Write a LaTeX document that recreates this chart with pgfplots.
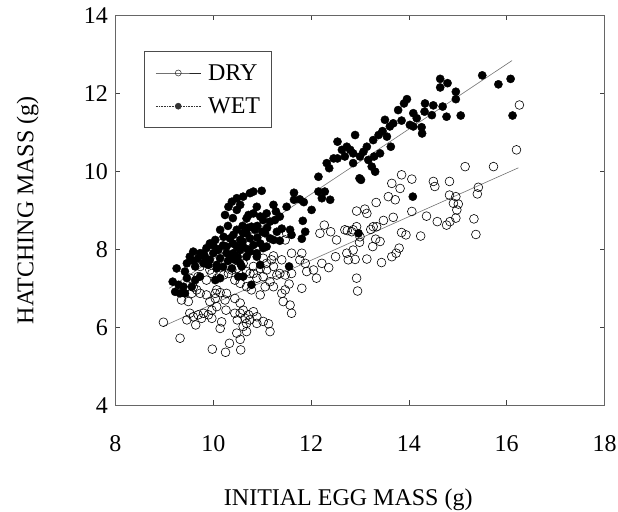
\documentclass[border=0pt]{standalone}
\usepackage{fontspec}
\setmainfont{Liberation Serif}
\usepackage{pgfplots}
\pgfplotsset{compat=1.18}
\newcommand\bigfont{\fontsize{24bp}{29bp}\selectfont}
\begin{document}
\begin{tikzpicture}
\begin{axis}[
 at={(0,0)}, anchor=south west,
 scale only axis, width=489bp, height=390bp,
 xmin=8, xmax=18, ymin=4, ymax=14,
 xtick={8,10,...,18}, ytick={4,6,...,14},
 tick align=inside, major tick length=5bp,
 axis line style={black!60, line width=0.8bp},
 every tick/.style={black!75, line width=0.8bp},
 /pgf/number format/assume math mode=true,
 ticklabel style={font=\bigfont},
 xticklabel style={yshift=-27bp},
 yticklabel style={xshift=-4bp},
 xlabel={INITIAL EGG MASS (g)},
 ylabel={HATCHING MASS (g)},
 label style={font=\bigfont},
 xlabel style={at={(axis description cs:0.476,-0.2564)}, anchor=base},
 ylabel style={at={(axis description cs:-0.1677,0.5)}, anchor=base},
 legend image code/.code={\draw[mark repeat=2,mark phase=2,#1] plot coordinates {(0bp,0bp) (22.5bp,0bp) (45bp,0bp)};},
 legend cell align=left,
 legend style={at={(axis description cs:0.0583,0.9085)}, anchor=north west,
   draw=black!70, line width=0.8bp, font=\bigfont,
   inner xsep=11bp, inner ysep=13bp,
   nodes={inner sep=0bp}, column sep=7bp, row sep=16bp},
]
\addlegendimage{black!85, line width=0.7bp, mark=o, mark size=3bp, mark options={solid, line width=0.5bp}}
\addlegendentry{DRY}
\addlegendimage{black!80, line width=0.6bp, densely dotted, mark=*, mark size=3bp, mark options={solid}}
\addlegendentry{WET}
% DRY
\addplot[forget plot, only marks, mark=o, mark size=4.4bp, mark options={black, line width=0.6bp}] coordinates {
(16.26,11.70) (16.20,10.55) (15.15,10.12) (15.73,10.12) (13.85,9.91) (14.06,9.80) (13.65,9.69) (13.82,9.56)
(14.50,9.74) (14.53,9.61) (14.83,9.74) (15.42,9.59) (15.40,9.42) (14.83,9.39) (14.96,9.35) (14.91,9.18)
(15.01,9.16) (14.98,9.01) (14.96,8.80) (14.84,8.71) (14.77,8.62) (14.58,8.71) (15.33,8.78) (15.37,8.38)
(14.36,8.85) (14.24,8.34) (14.06,8.97) (13.94,8.37) (13.85,8.43) (13.68,8.82) (13.58,9.35) (13.72,9.27)
(13.33,9.20) (13.48,8.74) (13.34,8.58) (13.10,9.03) (13.14,8.92) (12.93,8.98) (12.93,8.58) (12.74,8.48)
(12.83,8.45) (13.00,8.32) (13.22,8.51) (13.27,8.58) (13.32,8.26) (13.41,8.20) (12.99,8.18) (12.86,7.98)
(12.73,7.90) (12.76,7.73) (12.90,7.74) (13.14,7.75) (13.44,7.66) (13.65,7.81) (13.80,8.03) (13.74,7.90)
(13.26,8.07) (12.93,7.26) (12.95,6.93) (12.50,7.81) (12.36,7.53) (12.11,7.26) (12.27,8.62) (12.40,8.45)
(11.88,7.64) (11.81,7.90) (11.77,7.73) (11.60,7.90) (11.55,7.11) (11.81,7.00) (11.50,8.41) (11.47,8.24)
(11.40,7.73) (11.23,7.83) (11.02,7.77) (11.23,7.56) (11.30,7.34) (11.36,7.38) (11.09,7.47) (10.96,7.51)
(10.82,7.56) (10.75,7.38) (10.89,7.26) (11.02,7.30) (11.16,7.17) (11.23,7.04) (11.06,7.04) (10.96,6.83)
(10.78,6.96) (10.68,7.04) (10.55,7.13) (10.44,7.21) (10.31,7.38) (10.21,7.34) (10.08,7.26) (9.97,7.38)
(9.86,7.21) (9.69,7.30) (9.52,7.26) (9.59,7.03) (9.66,6.96) (9.56,6.87) (9.73,6.87) (9.86,6.83)
(10.04,6.87) (10.07,6.96) (10.14,6.89) (10.27,6.87) (10.24,6.70) (10.04,6.74) (9.93,6.66) (10.44,6.74)
(10.55,6.62) (10.61,6.44) (10.72,6.32) (10.82,6.40) (10.89,6.27) (10.75,6.19) (10.68,6.10) (10.61,6.02)
(10.49,6.19) (10.55,6.36) (10.65,6.23) (10.44,6.36) (10.26,6.44) (10.07,6.53) (9.97,6.44) (9.90,6.32)
(9.80,6.36) (9.69,6.32) (9.59,6.27) (9.52,6.36) (9.46,6.19) (9.35,6.70) (9.49,6.66) (9.32,5.72)
(9.64,6.06) (9.76,6.23) (9.97,6.23) (10.17,6.14) (10.14,5.97) (10.48,5.85) (10.55,5.69) (10.68,5.89)
(10.89,6.10) (11.02,6.15) (11.13,6.09) (11.16,5.89) (10.33,5.59) (10.25,5.36) (9.98,5.44) (10.56,5.42)
(8.98,6.13) (9.73,7.56) (9.93,7.47) (10.10,7.60) (11.43,6.66) (11.57,6.57) (11.60,6.36) (11.40,6.87)
(11.47,6.96) (11.60,7.38) (11.47,7.34) (11.09,7.64) (11.19,7.73) (10.68,7.43) (10.82,7.38) (10.48,7.51)
(10.38,7.47) (10.61,7.64) (12.52,8.24) (12.18,8.41) (12.69,8.50) (12.86,8.50) (12.05,7.47) (12.22,7.64)
(11.91,7.43)
};
% WET
\addplot[forget plot, only marks, mark=*, mark size=4.1bp, black] coordinates {
(14.64,12.37) (14.79,12.26) (14.64,12.15) (15.50,12.46) (15.83,12.23) (16.08,12.37) (14.96,12.04) (14.96,11.85)
(14.69,11.66) (14.50,11.69) (14.33,11.74) (14.32,11.53) (14.47,11.44) (14.77,11.40) (15.06,11.43) (16.12,11.43)
(13.96,11.85) (13.90,11.74) (13.78,11.57) (14.09,11.49) (14.16,11.36) (14.02,11.19) (13.85,11.30) (13.68,11.23)
(13.51,11.32) (13.61,11.15) (13.46,11.03) (13.38,10.93) (13.27,10.80) (13.55,10.89) (13.63,10.63) (14.27,10.97)
(14.26,11.13) (14.09,11.15) (12.90,10.93) (13.14,10.63) (13.07,10.50) (13.00,10.38) (12.86,10.46) (12.73,10.63)
(12.54,10.76) (12.63,10.55) (12.80,10.55) (12.69,10.38) (12.86,10.21) (13.17,10.29) (13.24,10.12) (13.31,9.99)
(13.29,10.38) (13.41,10.46) (12.54,10.33) (12.46,10.33) (12.32,10.21) (12.37,10.08) (12.15,9.86) (12.99,9.82)
(13.02,9.78) (12.15,9.48) (12.28,9.48) (12.22,9.31) (12.39,9.27) (11.65,9.45) (11.77,9.28) (11.85,9.21)
(11.65,9.27) (12.01,9.01) (11.83,8.73) (11.88,8.45) (11.81,8.27) (11.40,8.53) (11.57,8.50) (11.60,8.37)
(11.36,8.22) (11.50,9.09) (11.23,9.14) (11.28,8.97) (11.09,8.92) (11.36,8.84) (10.96,8.84) (10.82,8.92)
(10.72,8.88) (10.68,8.79) (10.99,9.50) (10.82,9.48) (10.75,9.44) (10.61,9.35) (10.48,9.31) (10.38,9.22)
(10.55,9.14) (10.31,9.09) (10.24,8.88) (10.48,9.01) (10.89,9.09) (11.02,8.75) (11.16,8.71) (11.26,8.75)
(10.68,8.41) (10.78,8.58) (10.85,8.50) (10.61,8.41) (10.75,8.28) (10.55,8.24) (10.48,8.50) (10.41,8.37)
(10.34,8.28) (10.27,8.07) (10.21,8.32) (10.04,8.24) (9.93,8.15) (9.86,8.03) (9.73,7.90) (9.59,7.94)
(9.69,7.77) (9.83,7.81) (10.00,7.90) (10.10,7.98) (10.27,7.90) (10.14,7.77) (10.07,7.60) (9.93,7.73)
(9.80,7.64) (9.52,7.81) (9.46,7.64) (9.63,7.56) (10.07,7.51) (10.41,7.90) (10.55,7.98) (10.61,8.07)
(10.48,8.07) (10.34,7.81) (10.44,7.73) (10.68,7.81) (10.75,7.94) (10.82,8.11) (10.96,8.15) (10.89,7.90)
(11.09,8.07) (11.06,8.41) (11.16,8.28) (11.02,8.03) (11.23,8.24) (9.25,7.51) (9.42,7.43) (9.46,7.26)
(9.17,7.17) (9.29,7.09) (9.39,7.04) (9.32,6.87) (9.22,6.91) (9.42,6.87) (9.56,7.04) (9.63,7.21)
(9.73,7.30) (10.96,7.60) (10.89,7.81) (10.78,7.09) (10.61,7.30) (10.51,7.30) (10.14,7.26) (10.04,7.21)
(11.55,7.56) (12.97,8.41) (14.08,9.35) (10.58,7.56) (10.38,7.51) (10.55,7.64) (10.14,8.50)
(10.30,8.60) (10.40,8.80) (10.60,8.60) (10.90,8.60) (10.90,8.30) (10.70,8.00) (10.20,8.10) (10.10,8.00)
(10.00,8.10) (9.80,7.90) (9.90,7.60) (10.30,7.70) (10.50,7.80) (10.20,7.55) (11.00,8.45) (11.30,8.45)
(11.10,8.55) (10.40,8.15) (10.60,8.20) (10.70,8.55) (9.60,7.70)
};
% regression lines
\addplot[forget plot, black!55, line width=0.6bp] coordinates {(8.98,6.03) (16.24,10.09)};
\addplot[forget plot, black!55, line width=0.6bp] coordinates {(9.10,7.00) (16.11,12.84)};
\end{axis}
\pgfresetboundingbox
\useasboundingbox (-115.5bp,-106.7bp) rectangle (502.5bp,405.3bp);
\end{tikzpicture}
\end{document}
